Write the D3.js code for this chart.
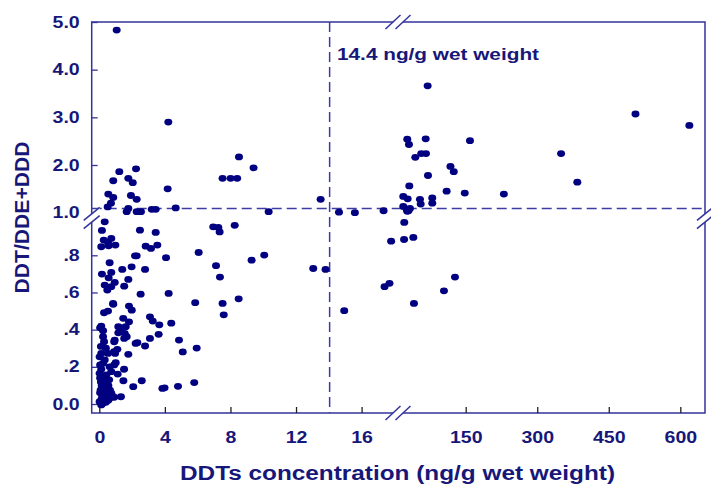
<!DOCTYPE html>
<html>
<head>
<meta charset="utf-8">
<script src="https://cdn.jsdelivr.net/npm/d3@7"></script>
<style>
body { margin: 0; background: #fff; }
text { font-family: "Liberation Sans", Arial, sans-serif; font-weight: bold; fill: #17177a; }
</style>
</head>
<body>
<script>
// samples below the x-axis break (0 - 18 ng/g): [DDTs, DDT/(DDE+DDD)]
var nearSamples = [
	[1.06,4.83],[4.21,2.90],[1.22,1.86],[2.24,1.92],[0.85,1.67],[1.77,1.72],[2.04,1.63],[4.17,1.50],
	[0.55,1.39],[0.85,1.32],[1.93,1.36],[2.28,1.28],[0.71,1.20],[0.51,1.12],[1.67,1.02],[1.77,1.09],
	[2.28,1.02],[2.54,1.02],[3.20,1.07],[3.44,1.07],[4.66,1.10],[7.52,1.72],[8.01,1.72],[8.41,1.72],
	[8.52,2.17],[9.41,1.94],[10.33,1.02],[13.5,1.28],[14.62,1.01],[15.59,1.00],[17.34,1.04],
	[3.44,0.923],[3.54,0.855],[3.15,0.837],[4.07,0.787],[6.06,0.815],[6.95,0.953],[7.26,0.95],[7.34,0.926],
	[8.26,0.961],[7.12,0.744],[7.36,0.683],[9.29,0.774],[4.23,0.595],[5.85,0.545],[7.52,0.541],[8.5,0.566],
	[7.59,0.48],[3.09,0.469],[3.26,0.446],[3.66,0.426],[4.39,0.435],[3.09,0.353],[3.62,0.375],[4.86,0.344],
	[5.09,0.28],[5.94,0.301],[3.85,0.084],[3.98,0.087],[4.80,0.095],[5.79,0.115],
	[10.06,0.801],[13.05,0.729],[13.8,0.724],[14.94,0.502],[17.8,0.876],[17.4,0.631],[17.7,0.649],
	[2.79,0.312],[2.32,0.33],[2.22,0.326],[2.48,0.935],[2.83,0.849],[2.28,0.797],[2.18,0.797],[1.97,0.738],
	[2.79,0.724],[2.52,0.591],[1.77,0.67],[1.40,0.724],[1.52,0.634],[0.85,0.536],[1.81,0.527],[1.98,0.505],
	[1.46,0.461],[1.81,0.442],[1.16,0.416],[1.37,0.41],[1.61,0.416],[1.67,0.362],[1.52,0.353],[1.16,0.383],
	[1.77,0.267],[0.96,0.272],[0.91,0.335],[1.1,0.294],[1.0,0.222],[0.91,0.21],[1.51,0.187],[1.12,0.161],
	[1.47,0.125],[2.07,0.093],[2.59,0.125],[1.32,0.039],[0.91,0.036],
	[0.33,0.98],[0.16,0.934],[0.27,0.882],[0.73,0.891],[0.53,0.869],[0.12,0.846],[0.98,0.855],[0.57,0.851],
	[0.63,0.76],[0.16,0.699],[0.73,0.708],[0.57,0.679],[0.33,0.64],[0.49,0.613],[0.73,0.631],[0.94,0.654],
	[0.84,0.541],[0.29,0.491],[0.53,0.5],[0.12,0.419],[0.23,0.394],[1.55,0.38],[0.23,0.362],[0.29,0.335],
	[0.94,0.344],[0.12,0.272],[0.02,0.254],[0.53,0.272],[0.9,0.281],[0.33,0.237],[0.23,0.219],[0.63,0.2],
	[0.12,0.187],[0.02,0.165],[0.73,0.174],[0.43,0.156],[0.73,0.058],
	[0.1,0.118],[0.3,0.11],[0.55,0.1],[0.2,0.09],[0.45,0.08],[0.65,0.075],[0.05,0.06],[0.25,0.05],
	[0.45,0.045],[0.7,0.035],[0.85,0.04],[0.15,0.03],[0.35,0.025],[0.55,0.02],[0.02,0.012],[0.23,0.004],
	[0.12,-0.005],[0.4,0.01],[0.08,0.075],[0.6,0.13],
	[0.05,0.41],[0.1,0.31],[0.4,0.3],[0.05,0.21],[0.35,0.14],[0.15,0.1],[0.05,0.14],[0.6,0.05]
];

// samples above the x-axis break (> 18 ng/g)
var farSamples = [
	[70.2,3.66],[506,3.07],[619,2.83],[27.5,2.54],[31.0,2.43],[66.1,2.55],[159,2.51],[350,2.24],
	[44.3,2.16],[56.8,2.24],[66.7,2.24],[118,1.97],[125,1.86],[70.9,1.78],[384,1.64],[31.7,1.56],
	[110,1.45],[148,1.41],[230,1.39],[19.1,1.34],[28.3,1.29],[54.1,1.28],[79.9,1.31],[55.6,1.18],
	[79.9,1.20],[19.1,1.13],[26.2,1.07],[33.1,1.09],[27.5,1.03],[30,1.04],
	[21.2,0.977],[20.8,0.885],[40.2,0.896],[127.5,0.683],[104.4,0.609],[41.5,0.541]
];

var xTicksLow = [0, 4, 8, 12, 16];
var xTicksHigh = [150, 300, 450, 600];
var yTicksHigh = [1, 2, 3, 4, 5];
var yTicksLow = [0, 0.2, 0.4, 0.6, 0.8];

var thresholdX = 14.05;   // drawn "14.4 ng/g wet weight" line
var thresholdY = 1.09;
var xSplit = 18.2;         // values above this go to the right-hand segment
var ySplit = 1.0;

var width = 711, height = 486;
var frame = {left: 91.7, top: 22, right: 705, bottom: 413};
var xBreakPx = 398, yBreakPx = 218;
var axisBlue = "#33339c", dotColor = "#000080";

// broken scales: two linear pieces per axis
var xLo = d3.scaleLinear().domain([0, 16]).range([99.3, 361.6]);
var xHi = d3.scaleLinear().domain([150, 600]).range([465.7, 680.3]);
var yHi = d3.scaleLinear().domain([2, 5]).range([165, 22]);
var yLo = d3.scaleLinear().domain([0, 0.8]).range([404, 255.3]);

function xPos(v){ return v <= xSplit ? xLo(v) : xHi(v); }
function yPos(v){ return v >= ySplit ? yHi(v) : yLo(v); }

var svg = d3.select("body").append("svg")
	.attr("width", width)
	.attr("height", height);

// the original export is stretched sideways, so widen the text
function stretch(sel, k){
	sel.each(function(){
		var w = this.getComputedTextLength();
		d3.select(this).attr("textLength", w * k).attr("lengthAdjust", "spacingAndGlyphs");
	});
}

// frame
svg.append("rect")
	.attr("x", frame.left).attr("y", frame.top)
	.attr("width", frame.right - frame.left)
	.attr("height", frame.bottom - frame.top)
	.attr("fill", "none")
	.attr("stroke", axisBlue).attr("stroke-width", 1.5);

// dashed reference lines
var ref = svg.append("g").attr("stroke", "#3c3ca2").attr("stroke-width", 1.5).attr("stroke-dasharray", "10,5");
ref.append("line")
	.attr("x1", xPos(thresholdX)).attr("x2", xPos(thresholdX))
	.attr("y1", frame.top).attr("y2", frame.bottom);
ref.append("line")
	.attr("x1", frame.left).attr("x2", frame.right)
	.attr("y1", yPos(thresholdY)).attr("y2", yPos(thresholdY));

// break marks
function hBreak(cx, cy){
	var dx = 7.5, dy = 7, gap = 5;
	svg.append("polygon")
		.attr("points", [[cx-gap-dx, cy+dy],[cx-gap+dx, cy-dy],[cx+gap+dx, cy-dy],[cx+gap-dx, cy+dy]].join(" "))
		.attr("fill", "#fff");
	[-gap, gap].forEach(function(o){
		svg.append("line")
			.attr("x1", cx+o-dx).attr("y1", cy+dy)
			.attr("x2", cx+o+dx).attr("y2", cy-dy)
			.attr("stroke", axisBlue).attr("stroke-width", 1.5);
	});
}
function vBreak(cx, cy){
	var dx = 8, dy = 6.5, gap = 4.2;
	svg.append("polygon")
		.attr("points", [[cx-dx, cy-gap+dy],[cx+dx, cy-gap-dy],[cx+dx, cy+gap-dy],[cx-dx, cy+gap+dy]].join(" "))
		.attr("fill", "#fff");
	[-gap, gap].forEach(function(o){
		svg.append("line")
			.attr("x1", cx-dx).attr("y1", cy+o+dy)
			.attr("x2", cx+dx).attr("y2", cy+o-dy)
			.attr("stroke", axisBlue).attr("stroke-width", 1.5);
	});
}
hBreak(xBreakPx, frame.bottom);
hBreak(xBreakPx, frame.top);
vBreak(frame.left, yBreakPx);
vBreak(frame.right, yBreakPx);

// axes
var fmtHi = d3.format(".1f");
var fmtLo = function(d){ return d === 0 ? "0.0" : d3.format(".1f")(d).replace(/^0/, ""); };

function styleAxis(g, tickColor, size){
	g.select(".domain").remove();
	g.selectAll(".tick line").attr("stroke", tickColor).attr("stroke-width", 1.3);
	g.selectAll(".tick text").style("font-size", size + "px");
	stretch(g.selectAll(".tick text"), 1.22);
}

var gyHi = svg.append("g")
	.attr("transform", "translate(" + frame.left + ",0)")
	.call(d3.axisLeft(yHi).tickValues(yTicksHigh).tickFormat(fmtHi).tickSizeInner(-6).tickSizeOuter(0).tickPadding(12));
styleAxis(gyHi, axisBlue, 16);
gyHi.selectAll(".tick").filter(function(d){ return d === 1; }).select("line").remove();

var gyLo = svg.append("g")
	.attr("transform", "translate(" + frame.left + ",0)")
	.call(d3.axisLeft(yLo).tickValues(yTicksLow).tickFormat(fmtLo).tickSizeInner(-6).tickSizeOuter(0).tickPadding(12));
styleAxis(gyLo, axisBlue, 16);

var gxLo = svg.append("g")
	.attr("transform", "translate(0," + frame.bottom + ")")
	.call(d3.axisBottom(xLo).tickValues(xTicksLow).tickFormat(d3.format("d")).tickSizeInner(-6).tickSizeOuter(0).tickPadding(19));
styleAxis(gxLo, "#222", 16);

var gxHi = svg.append("g")
	.attr("transform", "translate(0," + frame.bottom + ")")
	.call(d3.axisBottom(xHi).tickValues(xTicksHigh).tickFormat(d3.format("d")).tickSizeInner(-6).tickSizeOuter(0).tickPadding(19));
styleAxis(gxHi, "#222", 16);

// dots
var allSamples = nearSamples.concat(farSamples);
svg.append("g")
	.selectAll("ellipse")
	.data(allSamples)
	.enter().append("ellipse")
	.attr("cx", function(d){ return xPos(d[0]); })
	.attr("cy", function(d){ return yPos(d[1]); })
	.attr("rx", 4)
	.attr("ry", 3.4)
	.attr("fill", dotColor);

// labels
svg.append("text")
	.attr("x", 337).attr("y", 60)
	.style("font-size", "17px")
	.attr("textLength", 202).attr("lengthAdjust", "spacingAndGlyphs")
	.text("14.4 ng/g wet weight");

svg.append("text")
	.attr("x", 397.5).attr("y", 480)
	.attr("text-anchor", "middle")
	.style("font-size", "20px")
	.attr("textLength", 435).attr("lengthAdjust", "spacingAndGlyphs")
	.text("DDTs concentration (ng/g wet weight)");

svg.append("text")
	.attr("transform", "translate(29,217.5) rotate(-90)")
	.attr("text-anchor", "middle")
	.style("font-size", "21px")
	.attr("textLength", 152).attr("lengthAdjust", "spacingAndGlyphs")
	.text("DDT/DDE+DDD");
</script>
</body>
</html>
